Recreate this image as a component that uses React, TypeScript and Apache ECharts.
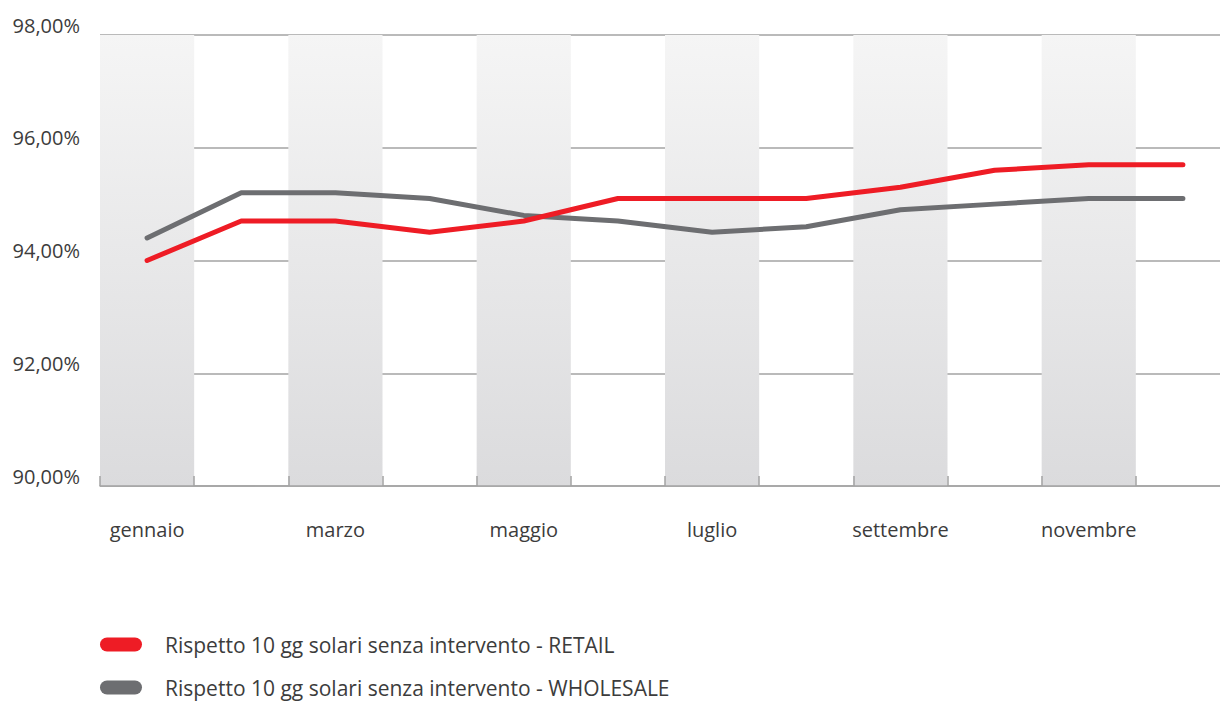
import React, { useEffect, useRef } from "react";
import * as echarts from "echarts";

const months = [
  "gennaio", "febbraio", "marzo", "aprile", "maggio", "giugno",
  "luglio", "agosto", "settembre", "ottobre", "novembre", "dicembre",
];
const retail = [94.0, 94.7, 94.7, 94.5, 94.7, 95.1, 95.1, 95.1, 95.3, 95.6, 95.7, 95.7];
const wholesale = [94.4, 95.2, 95.2, 95.1, 94.8, 94.7, 94.5, 94.6, 94.9, 95.0, 95.1, 95.1];
const seriesNames = [
  "Rispetto 10 gg solari senza intervento - RETAIL",
  "Rispetto 10 gg solari senza intervento - WHOLESALE",
];
const colors = ["#ee1c25", "#6d6e71"];

const FONT = "'Open Sans', Lato, sans-serif";
const TEXT = "#3c3c3c";
const capsule = "path://M7,0 L35,0 A7,7 0 0 1 35,14 L7,14 A7,7 0 0 1 7,0 Z";

export default function App() {
  const ref = useRef<HTMLDivElement>(null);
  useEffect(() => {
    if (!ref.current) return;
    const chart = echarts.init(ref.current, null, { renderer: "svg" });
    const band = new echarts.graphic.LinearGradient(0, 0, 0, 1, [
      { offset: 0, color: "#f5f5f5" },
      { offset: 1, color: "#dbdbdd" },
    ]);
    const legendTops = [634, 677];
    chart.setOption({
      animation: false,
      textStyle: { fontFamily: FONT },
      grid: { left: 100, right: 2, top: 35, bottom: 216 },
      legend: seriesNames.map((n, i) => ({
        orient: "horizontal",
        left: 100,
        top: legendTops[i],
        padding: 0,
        itemWidth: 42,
        itemHeight: 14,
        selectedMode: false,
        textStyle: { fontFamily: FONT, fontSize: 21, color: TEXT, padding: [0, 0, 0, 18] },
        data: [{ name: n, icon: capsule, itemStyle: { color: colors[i] } }],
      })),
      xAxis: {
        type: "category",
        data: months,
        boundaryGap: true,
        axisLine: { show: true, lineStyle: { color: "#a3a3a3", width: 1.5 } },
        axisTick: { show: true, inside: true, length: 10, interval: 0, lineStyle: { color: "#a3a3a3", width: 1.5 } },
        axisLabel: {
          interval: 1,
          margin: 33,
          fontFamily: FONT,
          fontSize: 20,
          color: TEXT,
        },
        splitLine: { show: false },
        splitArea: {
          show: true,
          interval: 0,
          areaStyle: { color: [band, "rgba(255,255,255,0)"] },
        },
      },
      yAxis: {
        type: "value",
        min: 90,
        max: 98,
        interval: 2,
        axisLine: { show: false },
        axisTick: { show: false },
        axisLabel: {
          margin: 20,
          fontFamily: FONT,
          fontSize: 20,
          color: TEXT,
          verticalAlign: "bottom",
          formatter: (v: number) => v.toFixed(2).replace(".", ",") + "%",
        },
        splitLine: { show: true, lineStyle: { color: "#a3a3a3", width: 1.5 } },
      },
      series: [
        {
          name: seriesNames[0],
          type: "line",
          data: retail,
          symbol: "none",
          z: 3,
          lineStyle: { color: colors[0], width: 5, cap: "round", join: "round" },
          itemStyle: { color: colors[0] },
        },
        {
          name: seriesNames[1],
          type: "line",
          data: wholesale,
          symbol: "none",
          z: 2,
          lineStyle: { color: colors[1], width: 5, cap: "round", join: "round" },
          itemStyle: { color: colors[1] },
        },
      ],
    });
    return () => chart.dispose();
  }, []);
  return (
    <div style={{ position: "absolute", left: 0, top: 0, width: 1220, height: 702, overflow: "hidden" }}>
      <div ref={ref} style={{ width: 1232, height: 702 }} />
    </div>
  );
}
